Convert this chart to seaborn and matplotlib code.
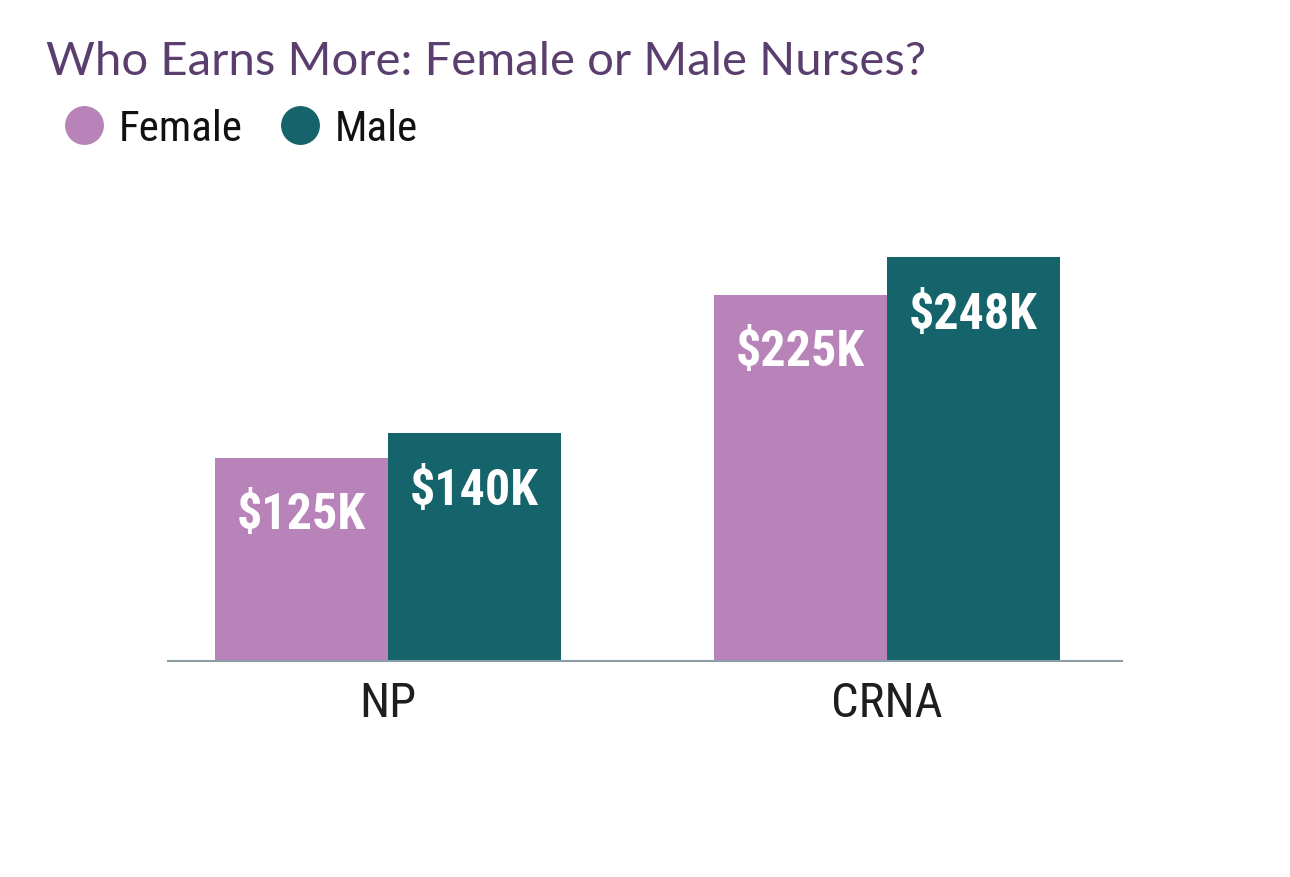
import matplotlib
matplotlib.use("Agg")
import matplotlib.pyplot as plt
from matplotlib.lines import Line2D
import seaborn as sns
import pandas as pd

roles = ["NP", "CRNA"]
genders = ["Female", "Male"]
female_pay = [125, 225]
male_pay = [140, 248]

colors = {"Female": "#B783B8", "Male": "#15636B"}

df = pd.DataFrame({
    "role": roles * 2,
    "gender": ["Female"] * len(roles) + ["Male"] * len(roles),
    "pay": female_pay + male_pay,
})

sns.set_theme(style="white")
cond = ["Roboto Condensed", "Roboto", "DejaVu Sans"]
plt.rcParams["font.family"] = cond

fig = plt.figure(figsize=(12.9, 8.78), dpi=100)
ax = fig.add_axes([0.1302, 0.246, 0.7395, 0.4633])

sns.barplot(data=df, x="role", y="pay", hue="gender", order=roles,
            hue_order=genders, palette=colors, width=0.693, saturation=1,
            legend=False, linewidth=0, ax=ax)

ax.set_xlim(-0.441, 1.471)
ax.set_ylim(0, 250)
ax.set_xlabel("")
ax.set_ylabel("")
ax.set_yticks([])
sns.despine(ax=ax, left=True)
ax.spines["bottom"].set_color("#8C9DA6")
ax.spines["bottom"].set_linewidth(1.5)
ax.tick_params(axis="x", length=0, labelsize=35, colors="#1E1E1E", pad=14)

for bar in ax.patches:
    h = bar.get_height()
    ax.annotate(f"${h:.0f}K", (bar.get_x() + bar.get_width() / 2, h),
                xytext=(0, -41), textcoords="offset points",
                ha="center", va="center", color="white",
                fontsize=36, fontweight="bold")

fig.text(0.036, 0.929, "Who Earns More: Female or Male Nurses?",
         fontsize=34, color="#5A3F6E", va="center", ha="left",
         family=["Lato", "DejaVu Sans"])

handles = [Line2D([], [], marker="o", linestyle="", markersize=28,
                  markerfacecolor=colors[g], markeredgewidth=0) for g in genders]
fig.legend(handles, genders, loc="center left", bbox_to_anchor=(0.015, 0.852),
           ncol=2, frameon=False, fontsize=31, handletextpad=0.2,
           columnspacing=0.75, handlelength=1.2, labelcolor="#111111")

fig.savefig("out.png", dpi=100, facecolor="white")
